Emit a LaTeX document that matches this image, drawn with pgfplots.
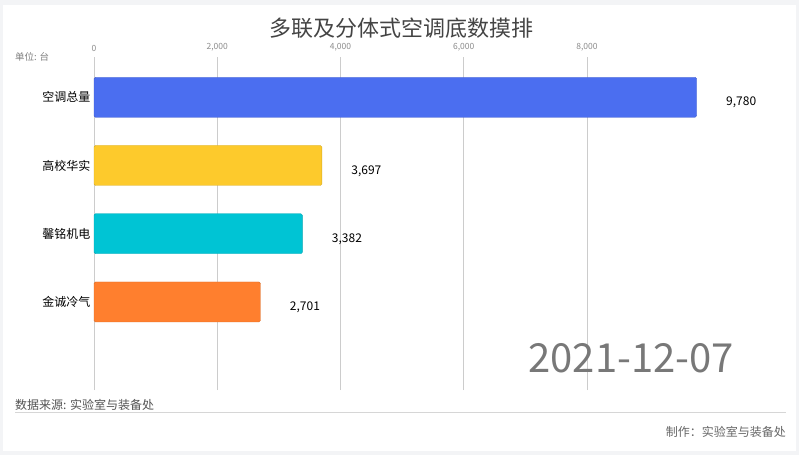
\documentclass[border=0pt]{standalone}
\usepackage{pgfplots}
\pgfplotsset{compat=1.18}
\usepackage{fontspec}
\setmainfont{Noto Sans CJK SC}

\definecolor{barblue}{RGB}{75,110,240}
\definecolor{baryellow}{RGB}{253,202,44}
\definecolor{barcyan}{RGB}{0,196,212}
\definecolor{barorange}{RGB}{255,127,46}
\definecolor{pagegray}{RGB}{243,244,246}
\definecolor{gridgray}{RGB}{204,204,204}
\definecolor{titlegray}{RGB}{68,68,68}

\begin{document}
\begin{tikzpicture}
\useasboundingbox (0,0) rectangle (799pt,455pt);
\fill[pagegray] (0,0) rectangle (799pt,455pt);
\fill[white] (3pt,4pt) rectangle (796pt,450pt);

\begin{axis}[
at={(94pt,65pt)}, anchor=south west,
scale only axis,
width=616.25pt, height=333pt,
xmin=0, xmax=10000,
ymin=-1.29, ymax=3.59,
clip=false,
axis line style={draw=none},
tick style={draw=none},
major tick length=0pt,
xmajorgrids,
x grid style={gridgray, line width=0.8pt},
xtick={0,2000,4000,6000,8000},
scaled x ticks=false,
xticklabel pos=upper,
xticklabel style={font=\fontsize{8.5}{10}\selectfont, text=black!45, yshift=2pt},
/pgf/number format/.cd, 1000 sep={,}, assume math mode=true, /pgfplots/.cd,
ytick={0,1,2,3},
yticklabels={金诚冷气,馨铭机电,高校华实,空调总量},
yticklabel style={font=\fontsize{12}{14}\selectfont, text=black},
xbar, bar width=40pt, bar shift=0pt,
point meta=x,
nodes near coords={\pgfmathprintnumber[1000 sep={,}, assume math mode=true]{\pgfplotspointmeta}},
nodes near coords align={anchor=west},
every node near coord/.append style={font=\fontsize{12}{14}\selectfont, text=black, xshift=26pt, yshift=-5.5pt},
]
\addplot[fill=barblue, draw=barblue!85!black, line width=0.4pt, rounded corners=1.5pt] coordinates {(9780,3)};
\addplot[fill=baryellow, draw=baryellow!85!black, line width=0.4pt, rounded corners=1.5pt] coordinates {(3697,2)};
\addplot[fill=barcyan, draw=barcyan!85!black, line width=0.4pt, rounded corners=1.5pt] coordinates {(3382,1)};
\addplot[fill=barorange, draw=barorange!85!black, line width=0.4pt, rounded corners=1.5pt] coordinates {(2701,0)};
\end{axis}

\node[font=\fontsize{22}{26}\selectfont, text=titlegray] at (401pt,427pt) {多联及分体式空调底数摸排};
\node[font=\fontsize{9.5}{11}\selectfont, text=black!50, anchor=west, inner sep=0pt] at (15pt,398pt) {单位: 台};
\node[font=\fontsize{40}{46}\selectfont, text=black!53, anchor=east, inner sep=0pt] at (734pt,97pt) {2021-12-07};
\node[font=\fontsize{12}{14}\selectfont, text=black!67, anchor=west, inner sep=0pt] at (15pt,50pt) {数据来源: 实验室与装备处};
\draw[gridgray!80, line width=0.8pt] (15pt,43pt) -- (786pt,43pt);
\node[font=\fontsize{12}{14}\selectfont, text=black!60, anchor=east, inner sep=0pt] at (786pt,23pt) {制作：实验室与装备处};
\end{tikzpicture}
\end{document}
